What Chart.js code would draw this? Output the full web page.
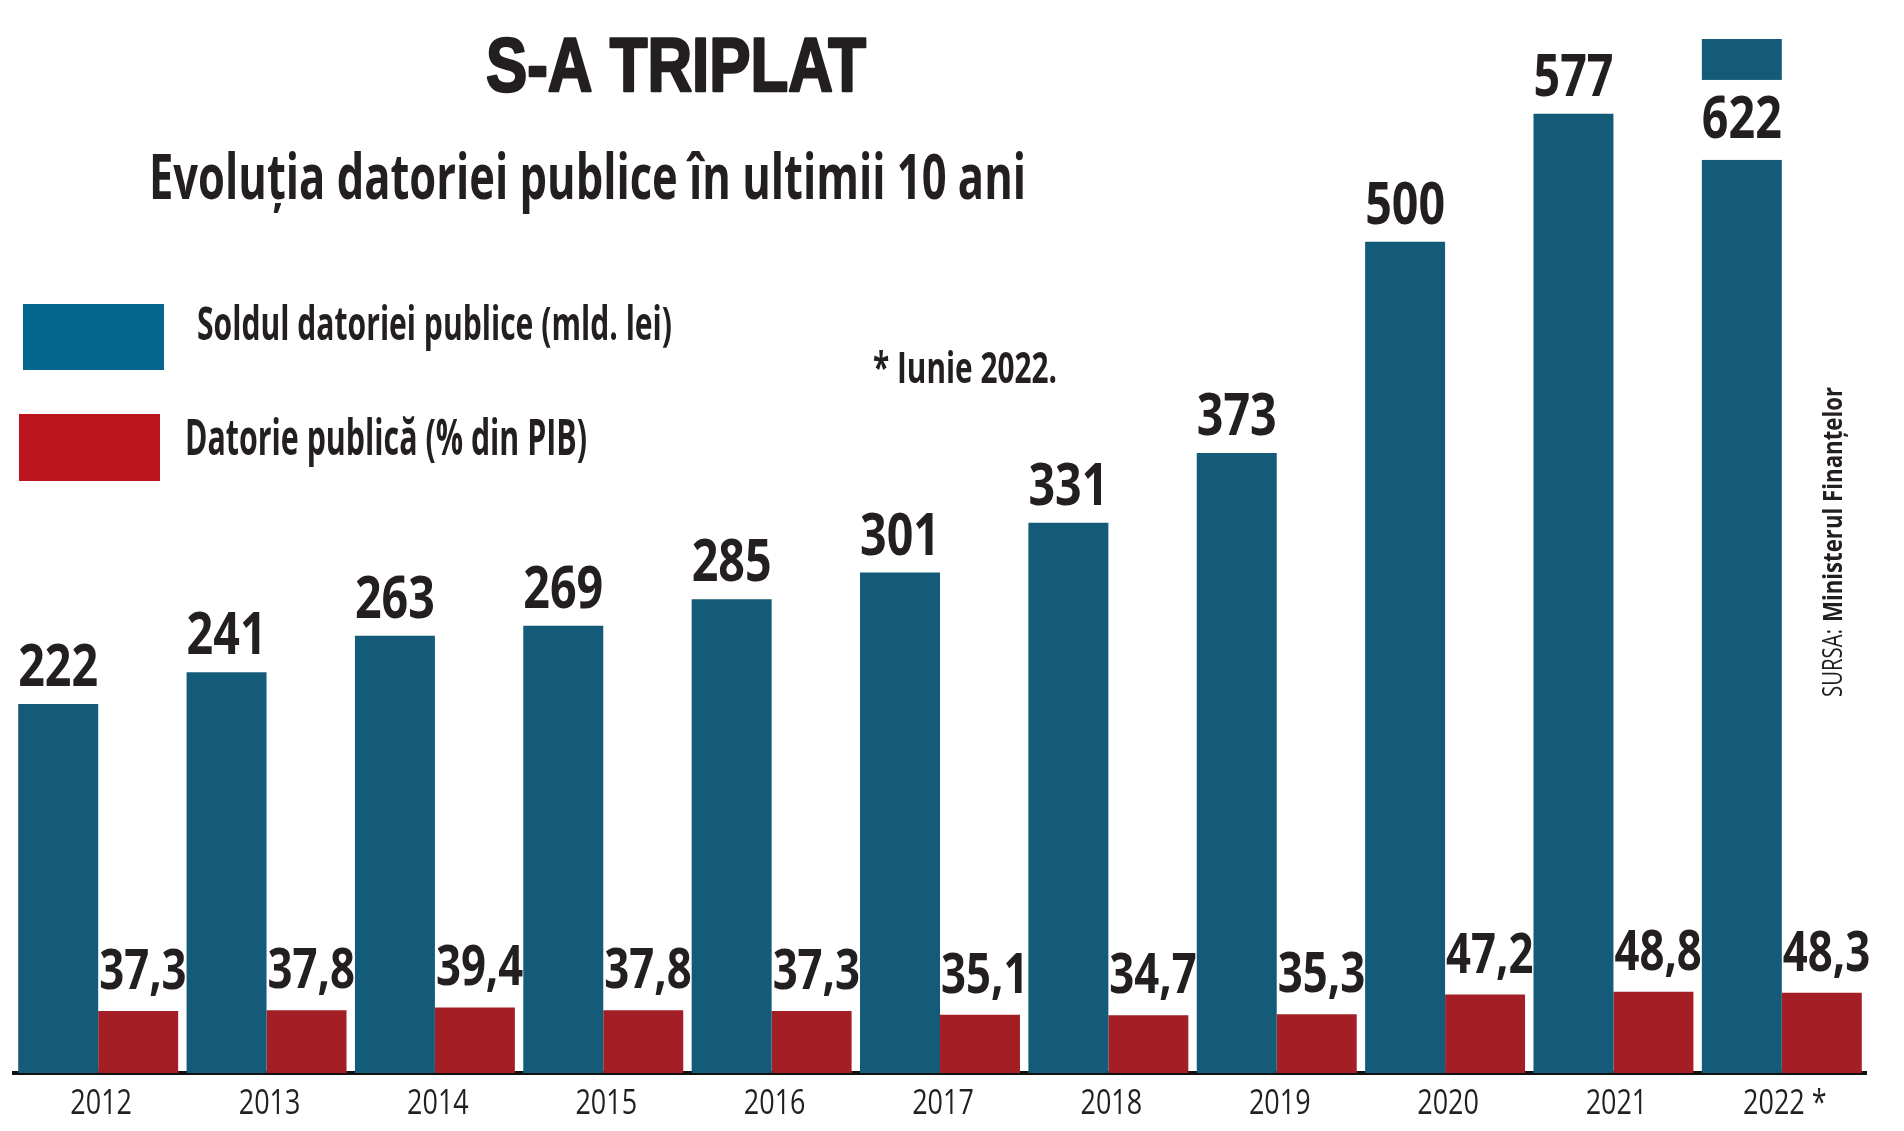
<!DOCTYPE html>
<html>
<head>
<meta charset="utf-8">
<script src="https://cdn.jsdelivr.net/npm/chart.js@4.4.1/dist/chart.umd.min.js"></script>
<style>
html,body{margin:0;padding:0;background:#fff;}
#wrap{position:relative;width:1904px;height:1131px;}
canvas{display:block;}
</style>
</head>
<body>
<div id="wrap"><canvas id="c" width="1904" height="1131"></canvas></div>
<script>
// ---- data ----
const categories = ['2012','2013','2014','2015','2016','2017','2018','2019','2020','2021','2022 *'];
const debtBillionLei = [222, 241, 263, 269, 285, 301, 331, 373, 500, 577, 622];
const debtPercentGdp = [37.3, 37.8, 39.4, 37.8, 37.3, 35.1, 34.7, 35.3, 47.2, 48.8, 48.3];
const seriesLabels = ['Soldul datoriei publice (mld. lei)', 'Datorie publică (% din PIB)'];
const titleText = 'S-A TRIPLAT';
const subtitleText = 'Evoluția datoriei publice în ultimii 10 ani';
const footnoteText = '* Iunie 2022.';
const sourceLabel = 'SURSA:';
const sourceName = 'Ministerul Finanțelor';

// ---- style ----
const BAR_BLUE = '#145a79';
const BAR_RED = '#a41f25';
const LEG_BLUE = '#04678c';
const LEG_RED = '#bd151d';
const INK = '#231f20';

function fitText(ctx, text, x, y, font, width, align) {
  ctx.save();
  ctx.font = font;
  ctx.textBaseline = 'alphabetic';
  ctx.textAlign = 'left';
  const w0 = ctx.measureText(text).width;
  const sx = width / w0;
  let x0 = x;
  if (align === 'center') x0 = x - width / 2;
  ctx.translate(x0, y);
  ctx.scale(sx, 1);
  ctx.fillText(text, 0, 0);
  ctx.restore();
}
function squeezeText(ctx, text, x, y, font, sx, align) {
  ctx.save();
  ctx.font = font;
  ctx.textBaseline = 'alphabetic';
  ctx.textAlign = align;
  ctx.translate(x, y);
  ctx.scale(sx, 1);
  ctx.fillText(text, 0, 0);
  ctx.restore();
}

const decorPlugin = {
  id: 'decor',
  afterDraw(chart) {
    const ctx = chart.ctx;
    ctx.save();
    ctx.fillStyle = INK;
    ctx.strokeStyle = INK;
    // category tick labels (condensed), positioned by the x scale
    const xs = chart.scales.x;
    chart.data.labels.forEach((lab, i) => {
      squeezeText(ctx, lab, xs.getPixelForTick(i) + 3, 1114, '400 35px "Open Sans", sans-serif', 0.77, 'center');
    });
    // title (heavy)
    ctx.save();
    ctx.font = '700 76px "Liberation Sans", Arial, sans-serif';
    const tw = ctx.measureText(titleText).width;
    ctx.translate(486, 91);
    ctx.scale(380 / tw, 1);
    ctx.lineWidth = 2.5;
    ctx.lineJoin = 'round';
    ctx.fillText(titleText, 0, 0);
    ctx.strokeText(titleText, 0, 0);
    ctx.restore();
    // subtitle
    fitText(ctx, subtitleText, 149, 199, '700 63px "Open Sans", sans-serif', 877, 'left');
    // legend
    const ds = chart.data.datasets;
    ctx.fillStyle = LEG_BLUE;
    ctx.fillRect(23, 304, 141, 66);
    ctx.fillStyle = LEG_RED;
    ctx.fillRect(19, 414, 141, 67);
    ctx.fillStyle = INK;
    fitText(ctx, ds[0].label, 197, 340, '700 47px "Open Sans", sans-serif', 475, 'left');
    fitText(ctx, ds[1].label, 185, 455, '700 50px "Open Sans", sans-serif', 402, 'left');
    // footnote
    fitText(ctx, footnoteText, 873, 383, '700 43px "Open Sans", sans-serif', 184, 'left');
    // source (rotated)
    ctx.save();
    ctx.translate(1842, 697);
    ctx.rotate(-Math.PI / 2);
    fitText(ctx, sourceLabel, 0, 0, '400 27px "Open Sans", sans-serif', 68, 'left');
    fitText(ctx, sourceName, 75, 0, '700 27px "Open Sans", sans-serif', 235, 'left');
    ctx.restore();
    ctx.restore();
  },
  afterDatasetsDraw(chart) {
    const ctx = chart.ctx;
    ctx.save();
    ctx.fillStyle = INK;
    // blue labels
    const m0 = chart.getDatasetMeta(0);
    m0.data.forEach((bar, i) => {
      const txt = String(chart.data.datasets[0].data[i]);
      const font = '700 59px "Open Sans", sans-serif';
      let base = bar.y - 18;
      if (base - 44 < 0) {
        // not enough room above: cut a white band into the bar for the label
        const w = bar.width;
        ctx.fillStyle = '#ffffff';
        ctx.fillRect(bar.x - w / 2 - 1, bar.y + 41, w + 2, 80);
        ctx.fillStyle = INK;
        base = bar.y + 99;
      }
      squeezeText(ctx, txt, bar.x, base, font, 0.79, 'center');
    });
    // red labels
    const m1 = chart.getDatasetMeta(1);
    m1.data.forEach((bar, i) => {
      const v = chart.data.datasets[1].data[i];
      const txt = v.toFixed(1).replace('.', ',');
      squeezeText(ctx, txt, bar.x - bar.width / 2 + 1, bar.y - 22, '700 56px "Open Sans", sans-serif', 0.78, 'left');
    });
    ctx.restore();
  }
};

const chart = new Chart(document.getElementById('c'), {
  type: 'bar',
  data: {
    labels: categories,
    datasets: [
      { label: seriesLabels[0], data: debtBillionLei, backgroundColor: BAR_BLUE, borderWidth: 0 },
      { label: seriesLabels[1], data: debtPercentGdp, backgroundColor: BAR_RED, borderWidth: 0 }
    ]
  },
  options: {
    responsive: false,
    devicePixelRatio: 1,
    animation: false,
    layout: { padding: { left: 14, right: 38, top: 9, bottom: 58 } },
    datasets: { bar: { categoryPercentage: 0.95, barPercentage: 1.0 } },
    plugins: { legend: { display: false }, tooltip: { enabled: false }, title: { display: false } },
    scales: {
      x: {
        grid: { display: false, drawTicks: false },
        border: { display: true, color: '#111111', width: 4 },
        ticks: { display: false }
      },
      y: { display: false, min: 0, max: 640 }
    }
  },
  plugins: [decorPlugin]
});
</script>
</body>
</html>
